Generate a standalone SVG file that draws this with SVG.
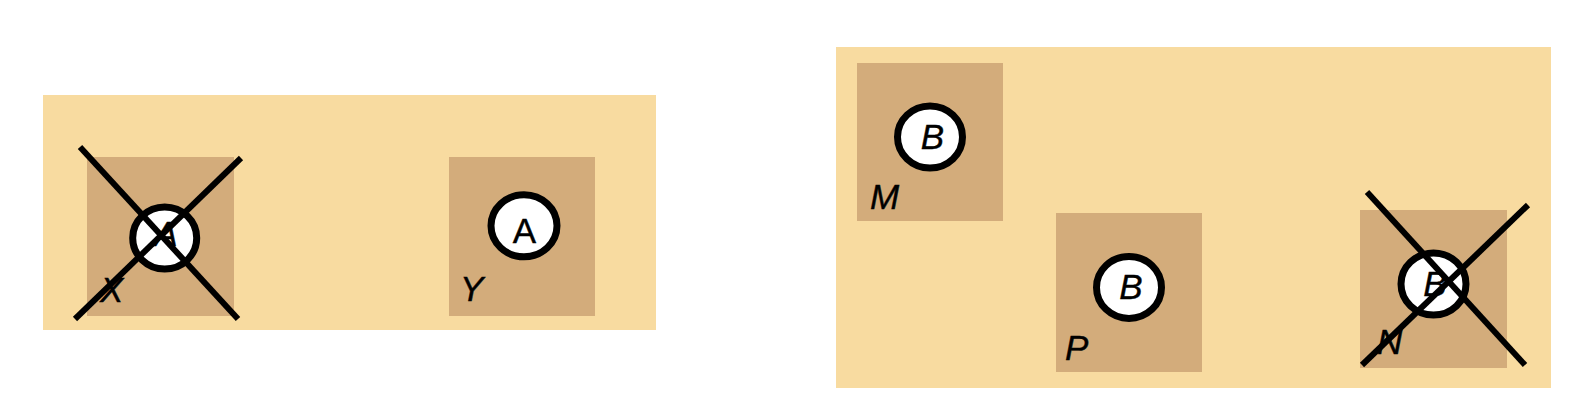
<svg xmlns="http://www.w3.org/2000/svg" width="1584" height="402" viewBox="0 0 1584 402">
<style>
.region{fill:#F8DBA0}
.box{fill:#D3AC7B}
.tok{fill:#fff;stroke:#000;stroke-width:7}
.t{font-family:"Liberation Sans",Arial,sans-serif;font-size:35px;fill:#000;stroke:#000;stroke-width:0.4}
.it{font-style:italic}
.mid{text-anchor:middle}
.cross{stroke:#000;stroke-width:6;stroke-linecap:butt;fill:none}
</style>
<rect width="1584" height="402" fill="#fff"/>
<g id="region-left"><rect class="region" x="43" y="95" width="613" height="235"/></g>
<g id="region-right"><rect class="region" x="836" y="47" width="715" height="341"/></g>
<g id="node-X">
<rect class="box" x="87" y="157" width="147" height="159"/>
<ellipse class="tok" cx="164.7" cy="238" rx="32" ry="31"/>
<text class="t it mid" x="166" y="246">A</text>
<text class="t it" x="100" y="302">X</text>
</g>
<g id="node-Y">
<rect class="box" x="449" y="157" width="146" height="159"/>
<ellipse class="tok" cx="524" cy="225.8" rx="33" ry="31"/>
<text class="t mid" x="524.5" y="242.5">A</text>
<text class="t it" x="460" y="300.5">Y</text>
</g>
<g id="node-M">
<rect class="box" x="857" y="63" width="146" height="158"/>
<ellipse class="tok" cx="930" cy="137" rx="32.5" ry="31"/>
<text class="t it mid" x="932.5" y="149">B</text>
<text class="t it" x="870" y="208.5">M</text>
</g>
<g id="node-P">
<rect class="box" x="1056" y="213" width="146" height="159"/>
<ellipse class="tok" cx="1129" cy="287.4" rx="32.5" ry="31"/>
<text class="t it mid" x="1131" y="299">B</text>
<text class="t it" x="1065" y="359.5">P</text>
</g>
<g id="node-N">
<rect class="box" x="1360" y="210" width="147" height="158"/>
<ellipse class="tok" cx="1433.5" cy="284" rx="32.5" ry="31"/>
<text class="t it mid" x="1435" y="296">B</text>
<text class="t it" x="1377" y="354">N</text>
</g>
<g id="connectors">
<line class="cross" x1="80" y1="147" x2="238" y2="319"/>
<line class="cross" x1="75" y1="319" x2="241" y2="158"/>
<line class="cross" x1="1367" y1="192" x2="1525" y2="365"/>
<line class="cross" x1="1362" y1="365" x2="1528" y2="205"/>
</g>
</svg>
